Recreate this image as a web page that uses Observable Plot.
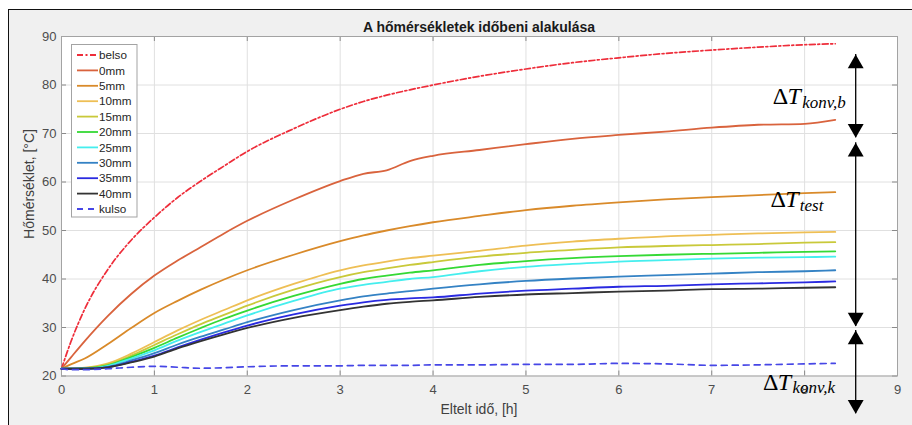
<!DOCTYPE html>
<html><head><meta charset="utf-8">
<script src="https://cdn.jsdelivr.net/npm/d3@7"></script>
<script src="https://cdn.jsdelivr.net/npm/@observablehq/plot@0.6"></script>
<style>
html,body{margin:0;padding:0;background:#fff;}
#wrap{position:relative;width:912px;height:425px;overflow:hidden;}
#bg{position:absolute;left:7.5px;top:8.5px;width:930px;height:440px;background:#f0f0f0;border-left:1.5px solid #111;border-top:1.5px solid #111;}
#chart{position:absolute;left:0;top:0;}
</style></head><body>
<div id="wrap"><div id="bg"></div><div id="chart"></div></div>
<script>
// ---- data ----
const times  = [0, 0.1, 0.25, 0.5, 0.75, 1, 1.25, 1.5, 1.75, 2, 2.5, 3, 3.25, 3.5, 3.75, 4, 4.5, 5, 5.5, 6, 6.5, 7, 7.5, 8, 8.33];
const belso  = [21.5, 27.0, 33.8, 42.0, 48.0, 52.7, 56.8, 60.2, 63.3, 66.3, 71.0, 75.0, 76.6, 77.9, 79.0, 80.0, 81.8, 83.3, 84.6, 85.6, 86.5, 87.2, 87.8, 88.3, 88.5];
const mm0    = [21.5, 23.8, 27.2, 32.4, 36.9, 40.7, 43.8, 46.6, 49.4, 52.0, 56.4, 60.2, 61.7, 62.4, 64.3, 65.4, 66.6, 67.8, 68.9, 69.7, 70.4, 71.2, 71.8, 72.0, 72.8];
const mm5    = [21.5, 22.4, 23.6, 26.6, 29.9, 33.0, 35.5, 37.8, 39.9, 41.8, 45.0, 47.8, 49.0, 50.0, 50.9, 51.7, 53.0, 54.2, 55.1, 55.8, 56.4, 56.9, 57.3, 57.7, 57.9];
const mm10   = [21.5, 21.5, 21.7, 22.6, 24.6, 27.0, 29.4, 31.6, 33.6, 35.6, 39.0, 41.8, 42.8, 43.6, 44.3, 44.8, 45.8, 46.9, 47.7, 48.3, 48.8, 49.1, 49.4, 49.6, 49.7];
const mm15   = [21.5, 21.5, 21.6, 22.4, 24.2, 26.4, 28.6, 30.7, 32.6, 34.5, 37.8, 40.4, 41.4, 42.2, 42.9, 43.5, 44.6, 45.4, 46.0, 46.5, 46.8, 47.0, 47.2, 47.5, 47.6];
const mm20   = [21.5, 21.5, 21.6, 22.2, 23.9, 25.8, 27.9, 29.9, 31.8, 33.5, 36.5, 39.0, 40.0, 40.7, 41.3, 41.8, 42.9, 43.7, 44.3, 44.7, 45.0, 45.2, 45.4, 45.6, 45.7];
const mm25   = [21.5, 21.5, 21.5, 22.1, 23.6, 25.3, 27.3, 29.1, 30.8, 32.5, 35.5, 38.0, 38.8, 39.4, 40.0, 40.4, 41.6, 42.5, 43.1, 43.6, 43.9, 44.2, 44.4, 44.5, 44.6];
const mm30   = [21.5, 21.5, 21.5, 21.9, 23.2, 24.7, 26.5, 28.1, 29.6, 31.1, 33.6, 35.6, 36.4, 37.0, 37.5, 38.0, 38.9, 39.6, 40.1, 40.5, 40.8, 41.1, 41.4, 41.6, 41.8];
const mm35   = [21.5, 21.5, 21.5, 21.8, 22.9, 24.2, 25.9, 27.5, 29.0, 30.4, 32.7, 34.5, 35.2, 35.7, 36.0, 36.2, 37.0, 37.6, 38.0, 38.4, 38.6, 38.9, 39.1, 39.3, 39.5];
const mm40   = [21.5, 21.5, 21.5, 21.8, 22.8, 24.0, 25.7, 27.2, 28.6, 29.9, 32.0, 33.6, 34.3, 34.9, 35.3, 35.6, 36.3, 36.8, 37.1, 37.4, 37.6, 37.9, 38.0, 38.2, 38.3];
const kulso  = [21.5, 21.3, 21.3, 21.5, 21.8, 22.0, 21.8, 21.6, 21.7, 21.9, 22.1, 22.1, 22.2, 22.2, 22.2, 22.3, 22.3, 22.4, 22.4, 22.6, 22.5, 22.2, 22.3, 22.5, 22.6];

const seriesNames  = ["belso", "0mm", "5mm", "10mm", "15mm", "20mm", "25mm", "30mm", "35mm", "40mm", "kulso"];
const seriesValues = [belso, mm0, mm5, mm10, mm15, mm20, mm25, mm30, mm35, mm40, kulso];
const seriesColors = ["#ee2d3a", "#d9633d", "#d98a2a", "#eebf55", "#c9c93a", "#35d935", "#45eeee", "#3482c4", "#2a2ae0", "#333333", "#4646e6"];
const seriesDash   = ["6,2.5,2,2.5", null, null, null, null, null, null, null, null, null, "6,5"];

const xTicks = [0, 1, 2, 3, 4, 5, 6, 7, 8, 9];
const yTicks = [20, 30, 40, 50, 60, 70, 80, 90];

const titleText = "A hőmérsékletek időbeni alakulása";
const xLabel = "Eltelt idő, [h]";
const yLabel = "Hőmérséklet, [°C]";

// annotation arrows (data units) and labels
const arrowX = 8.55;
const arrowTop = [86.3, 68.1, 29.4];
const arrowBottom = [69.1, 30.2, 12.2];
const annX = [7.657, 7.632, 7.553];
const annY = [75.98, 54.8, 17.15];
const annSub = ["konv,b", "test", "konv,k"];

// ---- build ----
const rows = seriesNames.flatMap((name, i) => seriesValues[i].map((v, j) => ({name, t: times[j], T: v})));
const arrows = arrowTop.map((top, i) => ({x: arrowX, top, bottom: arrowBottom[i]}));
const anns = annX.map((x, i) => ({x, y: annY[i], sub: annSub[i]}));

const W = 912, H = 425, ML = 61, MR = 15, MT = 36, MB = 49.5;
const innerW = W - ML - MR, innerH = H - MT - MB;
const tickLen = 5, tickColor = "#8a8a8a";

const lineMarks = seriesNames.map((name, i) =>
  Plot.line(rows.filter(d => d.name === name), {
    x: "t", y: "T", stroke: seriesColors[i], strokeWidth: seriesDash[i] ? 1.7 : 1.8,
    strokeDasharray: seriesDash[i] || undefined, curve: "monotone-x"
  })
);

const serif = "'Liberation Serif', 'Times New Roman', serif";
const plot = Plot.plot({
  width: W, height: H, marginLeft: ML, marginRight: MR, marginTop: MT, marginBottom: MB,
  style: {background: "transparent", fontFamily: "'Liberation Sans', Arial, sans-serif", fontSize: "13px", color: "#4d4d4d", overflow: "visible"},
  x: {domain: [0, 9], label: null},
  y: {domain: [20, 90], label: null},
  marks: [
    Plot.frame({fill: "white", stroke: "none"}),
    Plot.gridX(xTicks, {stroke: "#e0e0e0", strokeOpacity: 1}),
    Plot.gridY(yTicks, {stroke: "#e0e0e0", strokeOpacity: 1}),
    Plot.ruleX(xTicks, {stroke: tickColor, insetTop: innerH - tickLen}),
    Plot.ruleX(xTicks, {stroke: tickColor, insetBottom: innerH - tickLen}),
    Plot.ruleY(yTicks, {stroke: tickColor, insetRight: innerW - tickLen}),
    Plot.ruleY(yTicks, {stroke: tickColor, insetLeft: innerW - tickLen}),
    Plot.frame({stroke: "#a3a3a3"}),
    Plot.axisX(xTicks, {tickSize: 0, tickPadding: 9, fill: "#4d4d4d", fontSize: 13}),
    Plot.axisY(yTicks, {tickSize: 0, tickPadding: 5, fill: "#4d4d4d", fontSize: 13}),
    ...lineMarks,
    Plot.ruleX(arrows, {x: "x", y1: "top", y2: "bottom", stroke: "black", strokeWidth: 1.3}),
    Plot.dot(arrows, {x: "x", y: "top", symbol: "triangle", r: 5.9, fill: "black", stroke: "none", dy: 9.24}),
    Plot.dot(arrows, {x: "x", y: "bottom", symbol: "triangle", r: 5.9, fill: "black", stroke: "none", rotate: 180, dy: -9.24}),
    Plot.text(anns, {x: "x", y: "y", text: () => "Δ", fontFamily: serif, fontSize: 24, fill: "black", textAnchor: "start", dy: -7.7}),
    Plot.text(anns, {x: "x", y: "y", text: () => "T", fontFamily: serif, fontStyle: "italic", fontSize: 24, fill: "black", textAnchor: "start", dx: 14.7, dy: -7.7}),
    Plot.text(anns, {x: "x", y: "y", text: "sub", fontFamily: serif, fontStyle: "italic", fontSize: 17, fill: "black", textAnchor: "start", dx: 29.4, dy: 3.3 - 5.4})
  ]
});
document.getElementById("chart").appendChild(plot);

// ---- title, axis labels, legend ----
const svg = d3.select(plot);
svg.append("text").attr("x", ML + innerW / 2).attr("y", 32).attr("text-anchor", "middle")
  .attr("font-weight", "bold").attr("font-size", 14).attr("fill", "#1a1a1a").text(titleText);
svg.append("text").attr("x", ML + innerW / 2).attr("y", 414).attr("text-anchor", "middle")
  .attr("font-size", 14).attr("fill", "#404040").text(xLabel);
svg.append("text").attr("transform", "translate(34,184) rotate(-90)").attr("text-anchor", "middle")
  .attr("font-size", 14).attr("fill", "#404040").text(yLabel);

const lg = svg.append("g").attr("text-anchor", "start");
const lgX = 71.5, lgY = 44.5, lgRow = 15.4;
lg.append("rect").attr("x", lgX).attr("y", lgY).attr("width", 65.5).attr("height", 172.5)
  .attr("fill", "white").attr("stroke", "#a3a3a3");
seriesNames.forEach((name, i) => {
  const cy = lgY + 10.5 + i * lgRow;
  lg.append("line").attr("x1", lgX + 5.5).attr("x2", lgX + 26.5).attr("y1", cy).attr("y2", cy)
    .attr("stroke", seriesColors[i]).attr("stroke-width", 1.8)
    .attr("stroke-dasharray", seriesDash[i]);
  lg.append("text").attr("x", lgX + 27.5).attr("y", cy + 4.2).attr("font-size", 11.7)
    .attr("text-anchor", "start").attr("fill", "#262626").text(name);
});
</script>
</body></html>
